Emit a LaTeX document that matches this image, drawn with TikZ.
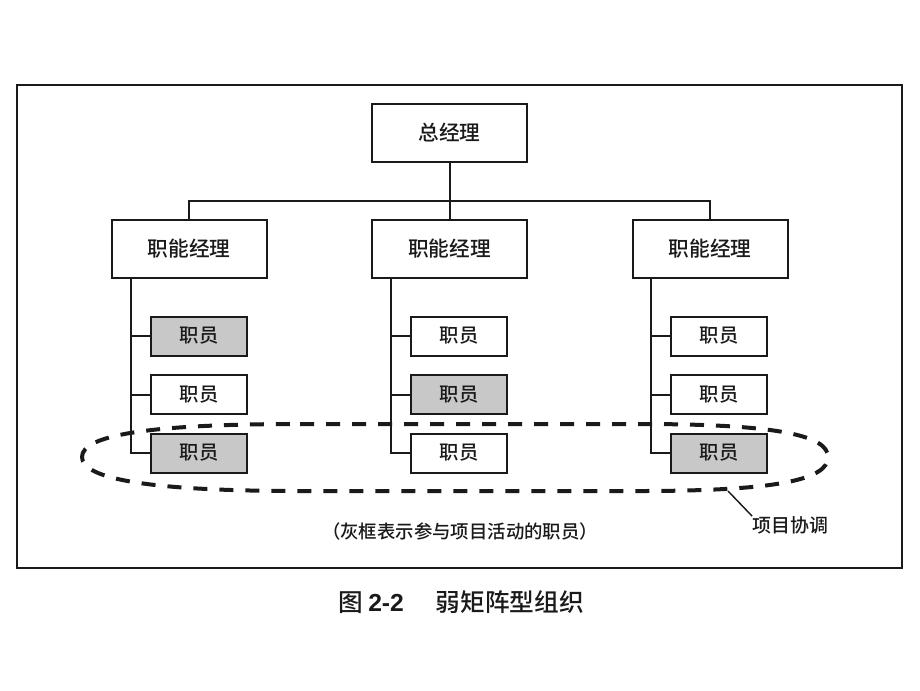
\documentclass[tikz,border=0pt]{standalone}
\usepackage{fontspec}
\setmainfont{Noto Sans CJK SC}[UprightFont=* Medium, BoldFont=* Bold]
\newfontfamily\lat{Liberation Sans}
\definecolor{boxgray}{HTML}{C8C8C8}
\definecolor{ink}{HTML}{1A1A1A}
\begin{document}
\begin{tikzpicture}[x=0.75pt,y=-0.75pt,
  conn/.style={line width=1.5pt,draw=ink},
  mgr/.style={draw=ink,line width=1.5pt,minimum width=116.25pt,minimum height=43.5pt,inner sep=0pt,fill=white,text=ink,font=\fontsize{15.5}{16}\selectfont},
  emp/.style={draw=ink,line width=1.5pt,minimum width=72pt,minimum height=29.25pt,inner sep=0pt,fill=white,text=ink,font=\fontsize{14.5}{15}\selectfont},
  empg/.style={emp,fill=boxgray},
  dashring/.style={line width=3pt,draw=ink,dash pattern=on 10.5pt off 9pt},
  note/.style={inner sep=0pt,text=ink,font=\fontsize{13.8}{14}\selectfont}
]
\useasboundingbox (0,0) rectangle (920,690);
% outer frame
\draw[line width=1.5pt,draw=ink] (17,85) rectangle (902,568);

% general manager
\node[mgr] (gm) at (449.5,133) {总经理};
% functional managers
\node[mgr] (m1) at (189,249) {职能经理};
\node[mgr] (m2) at (449.5,249) {职能经理};
\node[mgr] (m3) at (710,249) {职能经理};
\coordinate (bus) at (449.5,201);
\draw[conn] (gm.south) -- (bus);
\draw[conn] (m1.north) |- (bus) -| (m3.north);
\draw[conn] (bus) -- (m2.north);

% employees column 1
\node[empg] (e11) at (199,336) {职员};
\node[emp]  (e12) at (199,394.5) {职员};
\node[empg] (e13) at (199,453) {职员};
% column 2
\node[emp]  (e21) at (459,336) {职员};
\node[empg] (e22) at (459,394.5) {职员};
\node[emp]  (e23) at (459,453) {职员};
% column 3
\node[emp]  (e31) at (719,336) {职员};
\node[emp]  (e32) at (719,394.5) {职员};
\node[empg] (e33) at (719,453) {职员};

\foreach \c in {1,2,3}{
  \draw[conn] (m\c.south -| e\c1.west) ++(-19,0) |- (e\c3.west);
  \draw[conn] (e\c1.west) -- ++(-19,0);
  \draw[conn] (e\c2.west) -- ++(-19,0);
}

% dashed project coordination ring
\draw[dashring] (300,424) -- (640,424)
  .. controls (780,424) and (828,436) .. (828,457)
  .. controls (828,479) and (780,491) .. (640,491)
  -- (300,491)
  .. controls (150,491) and (82,479) .. (82,457)
  .. controls (82,435) and (150,424) .. (300,424) -- cycle;

% label
\coordinate (p) at (728,491);
\node[note,anchor=north west,font=\fontsize{14.2}{15}\selectfont] (lbl) at (752,516) {项目协调};
\draw[line width=1.1pt,draw=ink] (p) -- (lbl.north west);

\node[note] (txt) at (460,531) {（灰框表示参与项目活动的职员）};

% caption
\node[inner sep=0pt,text=ink,font=\fontsize{18.5}{19}\selectfont] (cap) at (461,602) {图 {\lat\bfseries 2-2}\hspace{1.3em}弱矩阵型组织};
\end{tikzpicture}
\end{document}
